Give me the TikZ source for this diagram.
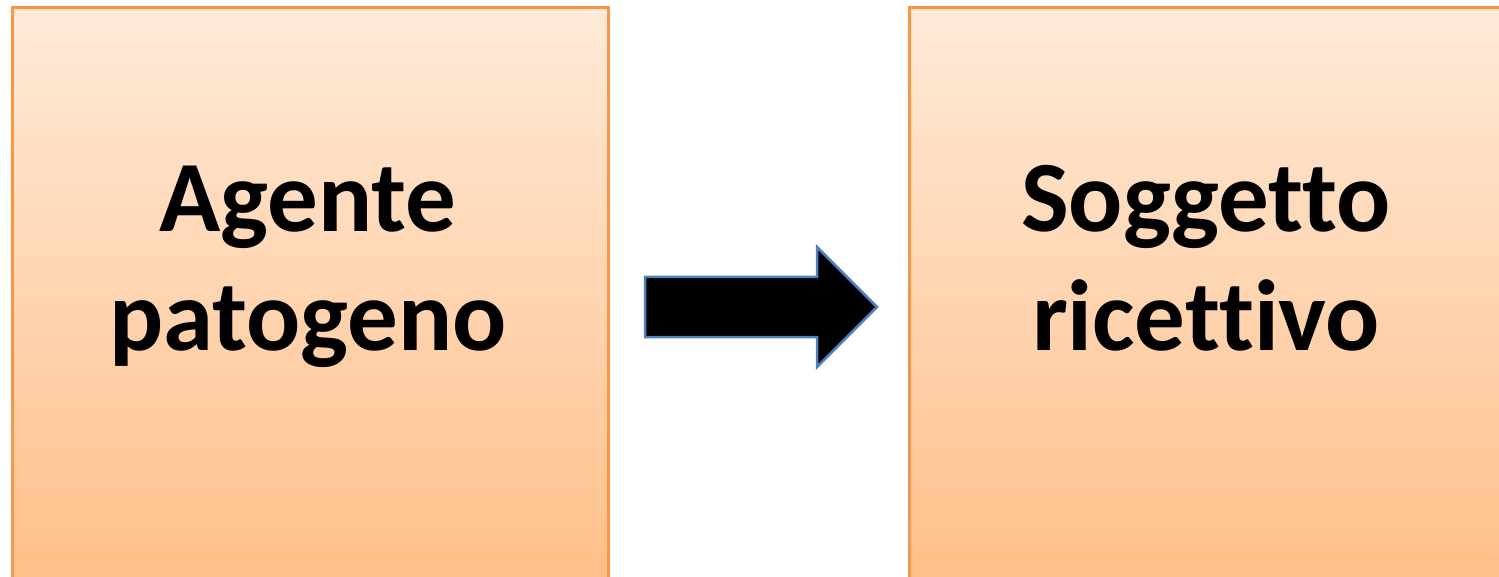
\documentclass[tikz,border=0pt]{standalone}
\usepackage{fontspec}
\setmainfont[Ligatures={NoCommon,NoRare}]{Carlito}
\definecolor{boxtop}{RGB}{255,234,217}
\definecolor{boxbot}{RGB}{255,190,134}
\definecolor{boxline}{RGB}{247,150,70}
\definecolor{arrline}{RGB}{79,129,189}
\tikzset{
  panel/.style={draw=boxline, line width=3pt, top color=boxtop, bottom color=boxbot},
  label/.style={font=\fontsize{101}{118}\selectfont\bfseries, anchor=base, inner sep=0pt},
  blockarrow/.style={draw=arrline, line width=2.5pt, fill=black, line join=miter}
}
\begin{document}
\begin{tikzpicture}[x=1pt,y=-1pt]
\useasboundingbox (0,0) rectangle (1499,577);
\clip (0,0) rectangle (1499,577);
\fill[white] (0,0) rectangle (1499,577);
\draw[panel] (12.5,7.5) rectangle (608.5,600);
\draw[panel] (909.5,7.5) rectangle (1505.5,600);
\node[label] (a1) at (308,232) {Agente};
\node[label] (a2) at (308,350) {patogeno};
\node[label] (b1) at (1206,232) {Soggetto};
\node[label] (b2) at (1206,350) {ricettivo};
\draw[blockarrow] (645,277) -- (817,277) -- (817,247) -- (877,307) -- (817,367) -- (817,337) -- (645,337) -- cycle;
\end{tikzpicture}
\end{document}
